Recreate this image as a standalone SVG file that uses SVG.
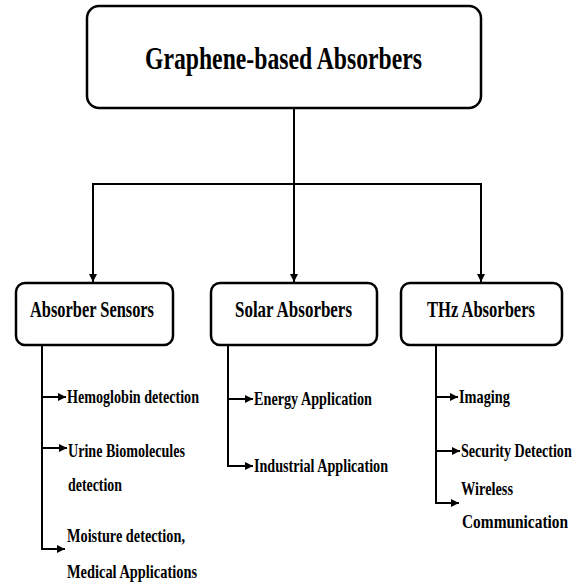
<svg xmlns="http://www.w3.org/2000/svg" width="588" height="585" viewBox="0 0 588 585">
<style>
.box{fill:#fff;stroke:#000;stroke-width:2.5}
.t{font-family:"Liberation Serif","Times New Roman",serif;font-weight:bold;fill:#000}
.h{font-size:31px}
.n{font-size:23px}
.s{font-size:19px}
.c{fill:none;stroke:#000;stroke-width:2}
</style>
<defs>
<marker id="ah" viewBox="0 0 10 10" refX="10" refY="5" markerWidth="8" markerHeight="8" markerUnits="userSpaceOnUse" orient="auto">
<path d="M0,0 L10,5 L0,10 z" fill="#000"/>
</marker>
</defs>
<rect width="588" height="585" fill="#fff"/>
<g id="connectors">
<path class="c" d="M294,108 V282" marker-end="url(#ah)"/>
<path class="c" d="M93,184 H481"/>
<path class="c" d="M93,183 V282" marker-end="url(#ah)"/>
<path class="c" d="M481,183 V282" marker-end="url(#ah)"/>
<path class="c" d="M42,345 V549 H65" marker-end="url(#ah)"/>
<path class="c" d="M42,397 H66" marker-end="url(#ah)"/>
<path class="c" d="M42,448 H67" marker-end="url(#ah)"/>
<path class="c" d="M228,345 V466 H253" marker-end="url(#ah)"/>
<path class="c" d="M228,399 H253" marker-end="url(#ah)"/>
<path class="c" d="M436,345 V503 H459" marker-end="url(#ah)"/>
<path class="c" d="M436,397 H458" marker-end="url(#ah)"/>
<path class="c" d="M436,451 H460" marker-end="url(#ah)"/>
</g>
<g id="root">
<rect class="box" x="87" y="6" width="394" height="102" rx="12"/>
<text class="t h" x="145" y="69" textLength="277" lengthAdjust="spacingAndGlyphs">Graphene-based Absorbers</text>
</g>
<g id="absorber-sensors">
<rect class="box" x="16" y="283" width="157" height="62" rx="9"/>
<text class="t n" x="30" y="317" textLength="124" lengthAdjust="spacingAndGlyphs">Absorber Sensors</text>
</g>
<g id="solar-absorbers">
<rect class="box" x="211" y="283" width="166" height="62" rx="9"/>
<text class="t n" x="235" y="317" textLength="117" lengthAdjust="spacingAndGlyphs">Solar Absorbers</text>
</g>
<g id="thz-absorbers">
<rect class="box" x="401" y="283" width="161" height="62" rx="9"/>
<text class="t n" x="427" y="317" textLength="108" lengthAdjust="spacingAndGlyphs">THz Absorbers</text>
</g>
<g id="hemoglobin">
<text class="t s" x="67" y="403" textLength="132" lengthAdjust="spacingAndGlyphs">Hemoglobin detection</text>
</g>
<g id="urine">
<text class="t s" x="68" y="457" textLength="117" lengthAdjust="spacingAndGlyphs">Urine Biomolecules</text>
<text class="t s" x="68" y="491" textLength="54" lengthAdjust="spacingAndGlyphs">detection</text>
</g>
<g id="moisture">
<text class="t s" x="67" y="542" textLength="118" lengthAdjust="spacingAndGlyphs">Moisture detection,</text>
<text class="t s" x="67" y="578" textLength="130" lengthAdjust="spacingAndGlyphs">Medical Applications</text>
</g>
<g id="energy">
<text class="t s" x="254" y="405" textLength="118" lengthAdjust="spacingAndGlyphs">Energy Application</text>
</g>
<g id="industrial">
<text class="t s" x="254" y="472" textLength="134" lengthAdjust="spacingAndGlyphs">Industrial Application</text>
</g>
<g id="imaging">
<text class="t s" x="459" y="403" textLength="51" lengthAdjust="spacingAndGlyphs">Imaging</text>
</g>
<g id="security">
<text class="t s" transform="translate(461,457) scale(0.78,1)" x="0" y="0" textLength="142" lengthAdjust="spacingAndGlyphs">Security Detection</text>
</g>
<g id="wireless">
<text class="t s" x="461" y="495" textLength="52" lengthAdjust="spacingAndGlyphs">Wireless</text>
<text class="t s" transform="translate(462,528) scale(0.78,1)" x="0" y="0" textLength="136" lengthAdjust="spacingAndGlyphs">Communication</text>
</g>
</svg>
